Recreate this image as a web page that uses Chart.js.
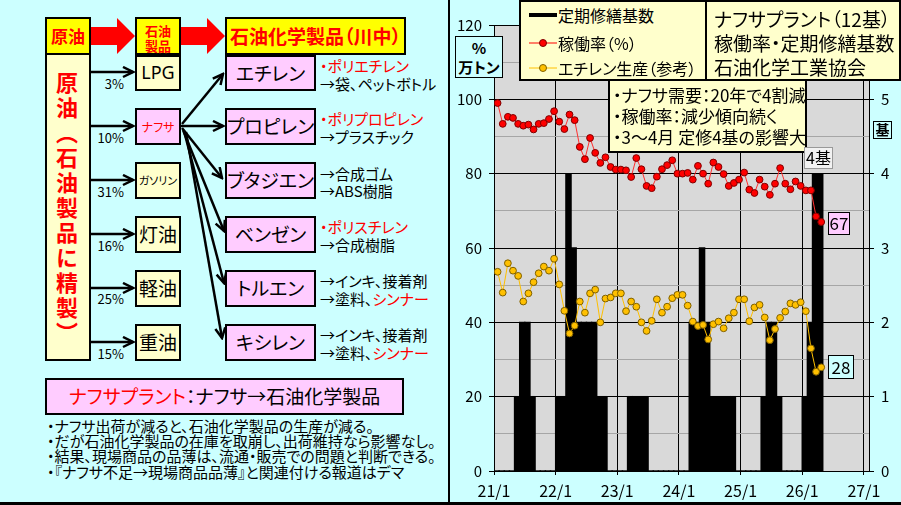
<!DOCTYPE html>
<html><head><meta charset="utf-8">
<script src="https://cdn.jsdelivr.net/npm/chart.js@4.4.1/dist/chart.umd.min.js"></script>
<style>
html,body{margin:0;padding:0;}
body{width:901px;height:505px;position:relative;overflow:hidden;background:#ccffff;font-family:'Noto Sans CJK JP','Noto Sans',sans-serif;font-feature-settings:"palt";color:#000;}
.a{position:absolute;box-sizing:border-box;}
.bx{position:absolute;box-sizing:border-box;border:2px solid #000;display:flex;align-items:center;justify-content:center;text-align:center;line-height:1.1;white-space:nowrap;}
.t{position:absolute;white-space:nowrap;line-height:1;}
.r{color:#ff0000;}
.y{background:#ffff00;}
.ly{background:#ffffcc;}
.pk{background:#ffccff;}
</style></head>
<body>
<!-- left panel -->
<svg class="a" style="left:0;top:0" width="449" height="505">
<defs><marker id="ah" markerWidth="13" markerHeight="13" refX="11" refY="6" orient="auto" markerUnits="userSpaceOnUse"><path d="M1,1 L11,6 L1,11" fill="none" stroke="#000" stroke-width="2.5"/></marker></defs>
<polygon points="90,27 117,27 117,18 135,36 117,54 117,45 90,45" fill="#ff0000"/>
<polygon points="180,27 207,27 207,18 225,36 207,54 207,45 180,45" fill="#ff0000"/>
<g stroke="#000" stroke-width="2.5" fill="none" marker-end="url(#ah)">
<line x1="90" y1="72" x2="133" y2="72"/>
<line x1="90" y1="126" x2="133" y2="126"/>
<line x1="90" y1="180" x2="133" y2="180"/>
<line x1="90" y1="234" x2="133" y2="234"/>
<line x1="90" y1="288" x2="133" y2="288"/>
<line x1="90" y1="342" x2="133" y2="342"/>
<line x1="182" y1="124" x2="223" y2="74"/>
<line x1="181" y1="126" x2="223" y2="126"/>
<line x1="182" y1="128" x2="222" y2="178"/>
<line x1="183" y1="130" x2="224" y2="231"/>
<line x1="184" y1="131" x2="224" y2="283"/>
<line x1="186" y1="132" x2="222" y2="338"/>
</g>
</svg>
<div class="bx y r" style="left:45px;top:17px;width:46px;height:38px;font-size:17px;font-weight:bold;">原油</div>
<div class="bx y r" style="left:135px;top:17px;width:46px;height:38px;font-size:13px;font-weight:bold;line-height:15px;padding-top:3px;">石油<br>製品</div>
<div class="bx y r" style="left:225px;top:17px;width:181px;height:38px;font-size:19px;font-weight:bold;">石油化学製品（川中）</div>
<div class="bx ly" style="left:45px;top:53px;width:46px;height:308px;"></div>
<div class="t r" style="left:56px;top:72px;writing-mode:vertical-rl;font-size:22px;font-weight:bold;letter-spacing:3px;font-feature-settings:normal;">原油（石油製品に精製）</div>

<div class="bx ly" style="left:135px;top:55px;width:46px;height:36px;font-size:18px;font-family:'Noto Sans',sans-serif;">LPG</div>
<div class="bx pk r" style="left:135px;top:108px;width:46px;height:37px;font-size:12px;">ナフサ</div>
<div class="bx ly" style="left:135px;top:162px;width:46px;height:37px;font-size:11px;">ガソリン</div>
<div class="bx ly" style="left:135px;top:216px;width:46px;height:37px;font-size:19px;">灯油</div>
<div class="bx ly" style="left:135px;top:270px;width:46px;height:37px;font-size:19px;">軽油</div>
<div class="bx ly" style="left:135px;top:324px;width:46px;height:37px;font-size:19px;">重油</div>

<div class="t" style="left:90px;width:34px;text-align:right;top:77px;font-size:13px;">3%</div>
<div class="t" style="left:90px;width:34px;text-align:right;top:131px;font-size:13px;">10%</div>
<div class="t" style="left:90px;width:34px;text-align:right;top:185px;font-size:13px;">31%</div>
<div class="t" style="left:90px;width:34px;text-align:right;top:239px;font-size:13px;">16%</div>
<div class="t" style="left:90px;width:34px;text-align:right;top:292px;font-size:13px;">25%</div>
<div class="t" style="left:90px;width:34px;text-align:right;top:347px;font-size:13px;">15%</div>

<div class="bx pk" style="left:225px;top:55px;width:91px;height:36px;font-size:19px;">エチレン</div>
<div class="bx pk" style="left:225px;top:108px;width:91px;height:37px;font-size:19px;">プロピレン</div>
<div class="bx pk" style="left:225px;top:162px;width:91px;height:37px;font-size:19px;">ブタジエン</div>
<div class="bx pk" style="left:225px;top:216px;width:91px;height:37px;font-size:19px;">ベンゼン</div>
<div class="bx pk" style="left:225px;top:270px;width:91px;height:37px;font-size:19px;">トルエン</div>
<div class="bx pk" style="left:225px;top:324px;width:91px;height:37px;font-size:19px;">キシレン</div>

<div class="t r" style="left:320px;top:58px;font-size:15px;">・ポリエチレン</div>
<div class="t" style="left:320px;top:76px;font-size:15px;">→袋、ペットボトル</div>
<div class="t r" style="left:320px;top:111px;font-size:15px;">・ポリプロピレン</div>
<div class="t" style="left:320px;top:129px;font-size:15px;">→プラスチック</div>
<div class="t" style="left:320px;top:166px;font-size:15px;">→合成ゴム</div>
<div class="t" style="left:320px;top:183px;font-size:15px;">→ABS樹脂</div>
<div class="t r" style="left:320px;top:219px;font-size:15px;">・ポリスチレン</div>
<div class="t" style="left:320px;top:237px;font-size:15px;">→合成樹脂</div>
<div class="t" style="left:320px;top:273px;font-size:15px;">→インキ、接着剤</div>
<div class="t" style="left:320px;top:291px;font-size:15px;">→塗料、<span class="r">シンナー</span></div>
<div class="t" style="left:320px;top:327px;font-size:15px;">→インキ、接着剤</div>
<div class="t" style="left:320px;top:345px;font-size:15px;">→塗料、<span class="r">シンナー</span></div>

<div class="bx pk" style="left:45px;top:378px;width:359px;height:37px;font-size:19px;"><span class="r">ナフサプラント</span>：ナフサ→石油化学製品</div>
<div class="t" style="left:47px;top:418px;font-size:15px;line-height:15.2px;">・ナフサ出荷が減ると、石油化学製品の生産が減る。<br>・だが石油化学製品の在庫を取崩し、出荷維持なら影響なし。<br>・結果、現場商品の品薄は、流通・販売での問題と判断できる。<br>・『ナフサ不足→現場商品品薄』と関連付ける報道はデマ</div>

<div class="a" style="left:448px;top:0;width:2px;height:505px;background:#000;"></div>
<div class="a" style="left:0;top:502px;width:901px;height:3px;background:#000;"></div>

<!-- right panel chart -->
<canvas id="c" width="450" height="501" style="position:absolute;left:451px;top:0;"></canvas>

<div class="a ly" style="left:519px;top:0;width:188px;height:81px;border:2px solid #000;"></div>
<svg class="a" style="left:519px;top:0" width="188" height="81">
<rect x="10" y="13" width="28" height="4" fill="#000"/>
<line x1="10" y1="43" x2="38" y2="43" stroke="#ff0000" stroke-width="1"/>
<circle cx="24" cy="43" r="3.5" fill="#ff0000" stroke="#800000" stroke-width="1"/>
<line x1="10" y1="68" x2="38" y2="68" stroke="#ffc000" stroke-width="1"/>
<circle cx="24" cy="68" r="3.5" fill="#ffc000" stroke="#7f6000" stroke-width="1"/>
</svg>
<div class="t" style="left:558px;top:7px;font-size:16px;">定期修繕基数</div>
<div class="t" style="left:558px;top:35px;font-size:16px;">稼働率（%）</div>
<div class="t" style="left:558px;top:60px;font-size:16px;">エチレン生産（参考）</div>

<div class="a ly" style="left:705px;top:0;width:196px;height:81px;border:2px solid #000;"></div>
<div class="t" style="left:714px;top:7px;font-size:19px;line-height:24px;">ナフサプラント（12基）<br>稼働率・定期修繕基数<br>石油化学工業協会</div>

<div class="a ly" style="left:608px;top:79px;width:199px;height:74px;border:2px solid #000;"></div>
<div class="t" style="left:613px;top:84px;font-size:17px;line-height:21px;">・ナフサ需要：20年で4割減<br>・稼働率：減少傾向続く<br>・3～4月 定修4基の影響大</div>

<div class="bx" style="left:455px;top:36px;width:48px;height:42px;border-width:1.5px;background:#ccffff;font-size:15px;font-weight:bold;line-height:19px;flex-direction:column;">%<br>万トン</div>
<div class="bx" style="left:873px;top:121px;width:19px;height:18px;border-width:1.5px;background:#ccffff;font-size:14px;font-weight:bold;">基</div>
<div class="bx" id="lbBar" style="left:804px;top:147px;width:29px;height:22px;border:1px solid #999;background:#f2f2f2;font-size:16px;"></div>
<div class="bx" id="lbRed" style="left:828px;top:212px;width:22px;height:23px;border-width:1px;background:#ffccff;font-size:17px;"></div>
<div class="bx" id="lbYel" style="left:828px;top:355px;width:26px;height:24px;border-width:1px;background:#ccffff;font-size:17px;"></div>

<script>
// ---- data (monthly, Jan 2021 .. Apr 2026) ----
const yearTickLabels = ['21/1','22/1','23/1','24/1','25/1','26/1','27/1'];
const maintenanceUnits = [
  0,0,0,0,1,2,2,1,0,0,0,0,
  1,1,4,3,2,2,2,2,1,1,0,0,
  0,0,1,1,1,1,0,0,0,0,0,0,
  0,0,2,2,3,2,1,1,1,1,1,0,
  0,0,0,0,1,2,2,1,0,0,0,0,
  1,2,4,4];
const operatingRate = [
  99.0,93.4,95.3,95.0,93.4,92.9,93.2,91.9,93.4,93.6,94.7,96.8,
  94.0,92.0,95.9,94.4,87.2,83.9,89.6,85.6,82.9,84.4,81.8,81.1,
  81.1,80.9,79.1,84.2,81.2,76.7,76.1,79.2,81.2,82.3,83.6,80.0,
  80.0,80.2,78.4,82.1,80.0,77.3,83.0,81.8,79.9,76.7,77.5,78.4,
  80.3,75.7,74.8,78.4,76.5,74.3,77.3,81.5,77.3,75.8,77.9,76.7,
  75.5,75.5,68.5,67.0];
const ethyleneProduction = [
  53.6,48.0,55.9,53.9,52.5,45.6,47.8,50.8,53.2,55.0,53.9,57.1,
  50.2,43.1,37.0,39.1,45.6,42.6,47.8,48.8,40.0,46.4,46.7,47.8,
  47.8,43.0,45.6,44.2,40.0,37.7,40.4,46.2,42.6,44.2,46.5,47.4,
  47.4,44.5,40.2,39.0,39.3,35.4,39.5,40.2,38.4,41.1,42.6,46.2,
  46.2,40.3,44.0,44.7,41.3,35.2,38.2,41.2,42.9,45.1,44.7,45.4,
  43.0,33.0,26.7,27.9];

const barPts = maintenanceUnits.map((v,i)=>({x:i+0.5,y:v}));
const redPts = operatingRate.map((v,i)=>({x:i+0.7,y:v}));
const yelPts = ethyleneProduction.map((v,i)=>({x:i+0.7,y:v}));

document.getElementById('lbBar').textContent = maintenanceUnits[maintenanceUnits.length-1] + '基';
document.getElementById('lbRed').textContent = Math.round(operatingRate[operatingRate.length-1]);
document.getElementById('lbYel').textContent = Math.round(ethyleneProduction[ethyleneProduction.length-1]);

Chart.defaults.font.family = "'Noto Sans CJK JP','Noto Sans',sans-serif";
Chart.defaults.color = '#000';

const plotBg = {
  id:'plotBg',
  beforeDraw(chart){
    const {ctx, chartArea:{left,top,width,height}} = chart;
    ctx.save(); ctx.fillStyle = '#d9d9d9'; ctx.fillRect(left,top,width,height); ctx.restore();
  }
};

new Chart(document.getElementById('c'), {
  type:'bar',
  data:{ datasets:[
    { type:'line', label:'稼働率(%)', data:redPts, yAxisID:'y', xAxisID:'x',
      borderColor:'#ff3030', borderWidth:1, tension:0,
      pointRadius:3.4, pointBackgroundColor:'#ff0000', pointBorderColor:'#800000', pointBorderWidth:1, order:1 },
    { type:'line', label:'エチレン生産(参考)', data:yelPts, yAxisID:'y', xAxisID:'x',
      borderColor:'#ffc000', borderWidth:1, tension:0,
      pointRadius:3.4, pointBackgroundColor:'#ffc000', pointBorderColor:'#7f6000', pointBorderWidth:1, order:2 },
    { type:'bar', label:'定期修繕基数', data:barPts, yAxisID:'y2', xAxisID:'x',
      backgroundColor:'#000', borderWidth:0, barPercentage:1, categoryPercentage:1,
      inflateAmount:0.7, order:3 }
  ]},
  options:{
    responsive:false, animation:false,
    layout:{ padding:{ top:25, left:0, right:0, bottom:0 } },
    plugins:{ legend:{display:false}, tooltip:{enabled:false} },
    events:[],
    scales:{
      x:{ type:'linear', min:0, max:73, offset:false,
        afterBuildTicks: s => { s.ticks = yearTickLabels.map((_,k)=>({value:k*12})); },
        afterFit: s => { s.height = 30; },
        ticks:{ callback:(v,i)=>yearTickLabels[i], font:{size:16}, color:'#000', padding:6, maxRotation:0, autoSkip:false },
        grid:{ color:'#000', lineWidth:1, tickLength:4, offset:false },
        border:{ color:'#000' } },
      y:{ position:'left', min:0, max:120,
        afterFit: s => { s.width = 43; },
        ticks:{ stepSize:10, callback:v => (v % 20 === 0 ? v : ''), font:{size:15}, color:'#000', padding:7 },
        grid:{ color: c => (c.tick && c.tick.value % 20 === 0) ? '#000' : '#a6a6a6',
               tickColor: c => (c.tick && c.tick.value % 20 === 0) ? '#000' : 'rgba(0,0,0,0)',
               tickLength:5 },
        border:{ color:'#000' } },
      y2:{ position:'right', min:0, max:6,
        afterFit: s => { s.width = 32; },
        ticks:{ stepSize:1, callback:v => (v <= 5 ? v : ''), font:{size:15}, color:'#000', padding:7 },
        grid:{ drawOnChartArea:false, color:'#000', tickLength:5 },
        border:{ color:'#000' } }
    }
  },
  plugins:[plotBg]
});
</script>
</body></html>
